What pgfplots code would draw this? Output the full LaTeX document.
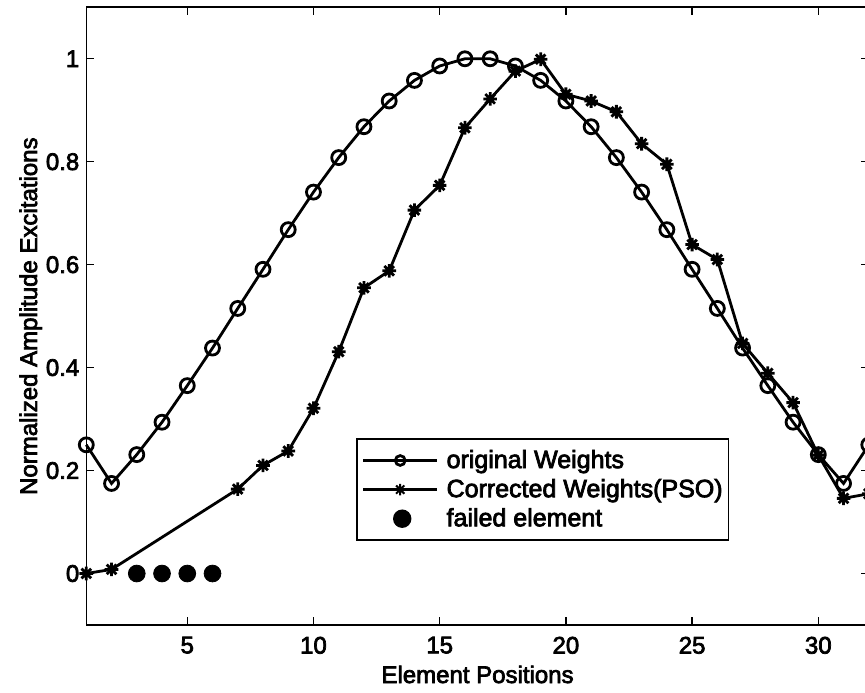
\documentclass[border=0pt]{standalone}
\usepackage{fontspec}
\newfontfamily\mf{Liberation Sans}[BoldFont={Liberation Sans}, BoldFeatures={FakeBold=3}]
\usepackage{pgfplots}
\pgfplotsset{compat=1.18}
\pgfdeclareplotmark{ast8}{%
  \pgfpathmoveto{\pgfqpoint{-\pgfplotmarksize}{0pt}}\pgfpathlineto{\pgfqpoint{\pgfplotmarksize}{0pt}}%
  \pgfpathmoveto{\pgfqpoint{0pt}{-\pgfplotmarksize}}\pgfpathlineto{\pgfqpoint{0pt}{\pgfplotmarksize}}%
  \pgfpathmoveto{\pgfqpoint{-0.7071\pgfplotmarksize}{-0.7071\pgfplotmarksize}}\pgfpathlineto{\pgfqpoint{0.7071\pgfplotmarksize}{0.7071\pgfplotmarksize}}%
  \pgfpathmoveto{\pgfqpoint{-0.7071\pgfplotmarksize}{0.7071\pgfplotmarksize}}\pgfpathlineto{\pgfqpoint{0.7071\pgfplotmarksize}{-0.7071\pgfplotmarksize}}%
  \pgfusepathqstroke}
\begin{document}
\begin{tikzpicture}
\begin{axis}[
  name=ax,
  scale only axis,
  width=391.25bp, height=308.85bp,
  xmin=1, xmax=32, ymin=-0.1, ymax=1.1,
  xtick={5,10,15,20,25,30},
  ytick={0,0.2,0.4,0.6,0.8,1},
  yticklabels={0,0.2,0.4,0.6,0.8,1},
  tick align=inside,
  major tick length=4bp,
  axis line style={line width=0.8bp},
  every tick/.style={line width=0.7bp, black},
  font=\mf\bfseries\fontsize{12bp}{14bp}\selectfont,
  /pgf/number format/assume math mode=true,
  xticklabel style={yshift=-2.4bp},
  xlabel={Element Positions},
  ylabel={Normalized Amplitude Excitations},
  xlabel style={at={(axis description cs:0.5,-0.0939)}, anchor=base},
  ylabel style={at={(axis description cs:-0.0630,0.5)}, anchor=base, rotate=0},
  clip=false,
  legend cell align=left,
  legend style={at={(axis description cs:0.3447,0.1359)}, anchor=south west,
    draw=black, line width=0.8bp, inner xsep=1bp, inner ysep=3.5bp,
    row sep=0bp,
    nodes={inner sep=2bp},
    font=\mf\bfseries\fontsize{12.5bp}{14bp}\selectfont},
]
\addplot[black, line width=1.4bp, mark=o, mark size=3.5bp,
  legend image code/.code={\path (-1.5bp,0bp); \draw[mark repeat=2, mark phase=2, mark options={scale=0.7}] plot coordinates {(0bp,0bp) (18.5bp,0bp) (37bp,0bp)};\path (39bp,0bp);}]
coordinates {
(1,0.250) (2,0.175) (3,0.231) (4,0.294) (5,0.365) (6,0.438) (7,0.515) (8,0.591)
(9,0.668) (10,0.741) (11,0.808) (12,0.868) (13,0.918) (14,0.958) (15,0.986) (16,1.000)
(17,1.000) (18,0.986) (19,0.958) (20,0.918) (21,0.868) (22,0.808) (23,0.741) (24,0.668)
(25,0.591) (26,0.515) (27,0.438) (28,0.365) (29,0.294) (30,0.231) (31,0.175) (32,0.250)
};
\addlegendentry{original Weights}
\addplot[black, line width=1.4bp, mark=ast8, mark size=3.4bp,
  legend image code/.code={\path (-1.5bp,0bp); \draw[mark repeat=2, mark phase=2, mark options={scale=0.85, line width=1bp}] plot coordinates {(0bp,0bp) (18.5bp,0bp) (37bp,0bp)};\path (39bp,0bp);}]
coordinates {
(1,0.000) (2,0.008) (7,0.164) (8,0.210) (9,0.238) (10,0.321) (11,0.431) (12,0.555)
(13,0.588) (14,0.706) (15,0.754) (16,0.866) (17,0.922) (18,0.976) (19,0.999) (20,0.931)
(21,0.918) (22,0.897) (23,0.835) (24,0.795) (25,0.639) (26,0.610) (27,0.447) (28,0.389)
(29,0.332) (30,0.230) (31,0.146) (32,0.155)
};
\addlegendentry{Corrected Weights(PSO)}
\addplot[black, only marks, mark=*, mark size=4.2bp,
  legend image code/.code={\path (-1.5bp,0bp) (39bp,0bp); \draw plot coordinates {(19.5bp,0bp)};}]
coordinates {(3,0) (4,0) (5,0) (6,0)};
\addlegendentry{failed element}
\end{axis}
\pgfresetboundingbox
\path[use as bounding box] ([xshift=-43.15bp,yshift=-34bp]ax.south west) rectangle ([xshift=-1.9bp,yshift=3.65bp]ax.north east);
\end{tikzpicture}
\end{document}
